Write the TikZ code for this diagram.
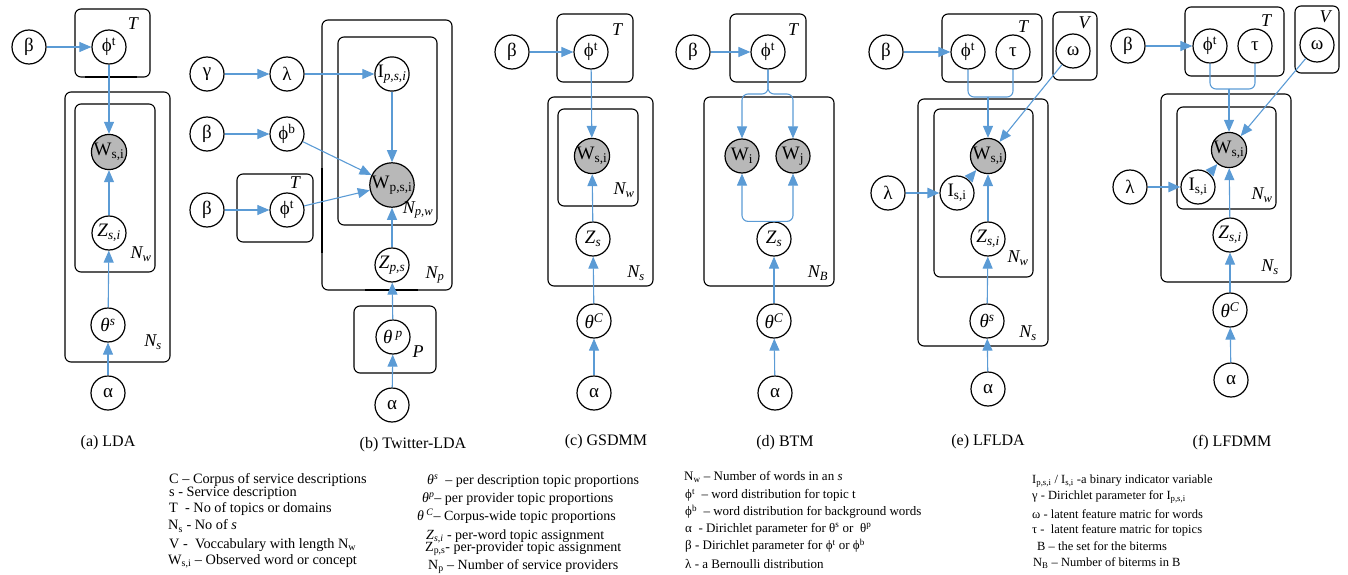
\documentclass[tikz,border=0pt]{standalone}
\usepackage{fontspec}
\setmainfont{Liberation Serif}
\usetikzlibrary{arrows.meta}
\definecolor{edgeBlue}{RGB}{91,155,213}
\definecolor{obsGray}{RGB}{184,184,184}
\tikzset{
    latentVar/.style={circle, draw, line width=1.2pt, minimum size=34pt, inner sep=0pt, font=\fontsize{19}{19}\selectfont},
    observedVar/.style={latentVar, fill=obsGray},
    plateBox/.style={draw, line width=1.1pt, rounded corners=6pt},
    plateLabel/.style={inner sep=0pt, font=\fontsize{18}{18}\selectfont\itshape},
    edgeArrow/.style={-{Triangle[length=12pt,width=10pt]}, edgeBlue, line width=1.1pt},
    thickArrow/.style={edgeArrow, line width=2.4pt},
    subCaption/.style={inner sep=0pt, font=\fontsize{16}{16}\selectfont},
    legendText/.style={anchor=west, inner sep=0pt, font=\fontsize{#1}{#1}\selectfont},
    legendText/.default=14
}
\newcommand{\phiT}{ϕ\textsuperscript{t}}
\newcommand{\phiB}{ϕ\textsuperscript{b}}
\newcommand{\wSI}{W\textsubscript{s,i}}
\newcommand{\zSI}{\textit{Z}\textsubscript{\textit{s,i}}}
\newcommand{\thetaOf}[1]{\textit{θ}\textsuperscript{\textit{#1}}}
\begin{document}
\begin{tikzpicture}[x=1pt, y=-1pt]
    \useasboundingbox (0,0) rectangle (1348,575);
    % (a) LDA
    \draw[plateBox] (75,9) rectangle (150,77);
    \draw[plateBox] (65,92) rectangle (170,362);
    \draw[plateBox] (75,104) rectangle (155,272);
    \draw[line width=2.4pt] (85,77) -- (137,77);
    \node[latentVar] (betaA) at (29,47) {β};
    \node[latentVar] (phiA) at (109,47) {\phiT};
    \node[observedVar] (wA) at (109,152) {\wSI};
    \node[latentVar] (zA) at (109,233) {\zSI};
    \node[latentVar] (thetaA) at (108,325) {\thetaOf{s}};
    \node[latentVar] (alphaA) at (108,393) {α};
    \node[plateLabel] (tA) at (133,24) {T};
    \node[plateLabel] (nwA) at (141,254) {N\textsubscript{w}};
    \node[plateLabel] (nsA) at (153,342) {N\textsubscript{s}};
    \node[subCaption] (capA) at (108,443) {(a) LDA};
    \draw[edgeArrow] (betaA) -- (phiA);
    \draw[edgeArrow] (phiA) -- (wA);
    \draw[edgeArrow] (zA) -- (wA);
    \draw[edgeArrow] (thetaA) -- (zA);
    \draw[edgeArrow] (alphaA) -- (thetaA);
    % (b) Twitter-LDA
    \draw[plateBox] (322,20) rectangle (452,290);
    \draw[plateBox] (338,37) rectangle (437,225);
    \draw[plateBox] (237,174) rectangle (313,242);
    \draw[plateBox] (354,306) rectangle (436,373);
    \draw[line width=2.4pt] (322,168) -- (322,253);
    \draw[line width=2.4pt] (365,290) -- (418,290);
    \node[latentVar] (gammaB) at (207,74) {γ};
    \node[latentVar] (lambdaB) at (287,74) {λ};
    \node[latentVar] (iB) at (392,74) {I\textsubscript{\textit{p,s,i}}};
    \node[latentVar] (betaBb) at (207,134) {β};
    \node[latentVar] (phibB) at (287,134) {\phiB};
    \node[latentVar] (betaBt) at (207,210) {β};
    \node[latentVar] (phitB) at (287,210) {\phiT};
    \node[observedVar] (wB) at (392,185) {W\textsubscript{p,s,i}};
    \node[latentVar] (zB) at (392,265) {\textit{Z}\textsubscript{\textit{p,s}}};
    \node[latentVar] (thetaB) at (393,337) {\textit{θ}\,\textsuperscript{\textit{p}}};
    \node[latentVar] (alphaB) at (392,405) {α};
    \node[plateLabel] (tB) at (295,183) {T};
    \node[plateLabel] (npwB) at (418,210) {N\textsubscript{p,w}};
    \node[plateLabel] (npB) at (435,275) {N\textsubscript{p}};
    \node[plateLabel] (pB) at (418,352) {P};
    \node[subCaption] (capB) at (413,445) {(b) Twitter-LDA};
    \draw[edgeArrow] (gammaB) -- (lambdaB);
    \draw[edgeArrow] (lambdaB) -- (iB);
    \draw[edgeArrow] (betaBb) -- (phibB);
    \draw[edgeArrow] (betaBt) -- (phitB);
    \draw[edgeArrow] (phibB) -- (wB);
    \draw[edgeArrow] (phitB) -- (wB);
    \draw[edgeArrow] (iB) -- (wB);
    \draw[edgeArrow] (zB) -- (wB);
    \draw[edgeArrow] (thetaB) -- (zB);
    \draw[edgeArrow] (alphaB) -- (thetaB);
    % (c) GSDMM
    \draw[plateBox] (557,14) rectangle (633,82);
    \draw[plateBox] (548,97) rectangle (653,286);
    \draw[plateBox] (558,109) rectangle (638,206);
    \node[latentVar] (betaC) at (512,52) {β};
    \node[latentVar] (phiC) at (591,52) {\phiT};
    \node[observedVar] (wC) at (592,156) {\wSI};
    \node[latentVar] (zC) at (593,239) {\textit{Z}\textsubscript{\textit{s}}};
    \node[latentVar] (thetaC) at (594,321) {\thetaOf{C}};
    \node[latentVar] (alphaC) at (594,393) {α};
    \node[plateLabel] (tC) at (617,30) {T};
    \node[plateLabel] (nwC) at (624,190) {N\textsubscript{w}};
    \node[plateLabel] (nsC) at (636,273) {N\textsubscript{s}};
    \node[subCaption] (capC) at (606,442) {(c) GSDMM};
    \draw[edgeArrow] (betaC) -- (phiC);
    \draw[edgeArrow] (phiC) -- (wC);
    \draw[edgeArrow] (zC) -- (wC);
    \draw[edgeArrow] (thetaC) -- (zC);
    \draw[edgeArrow] (alphaC) -- (thetaC);
    % (d) BTM
    \draw[plateBox] (730,14) rectangle (806,82);
    \draw[plateBox] (704,97) rectangle (834,286);
    \node[latentVar] (betaD) at (693,52) {β};
    \node[latentVar] (phiD) at (768,52) {\phiT};
    \node[observedVar] (wiD) at (742,156) {W\textsubscript{i}};
    \node[observedVar] (wjD) at (793,156) {W\textsubscript{j}};
    \node[latentVar] (zD) at (774,239) {\textit{Z}\textsubscript{\textit{s}}};
    \node[latentVar] (thetaD) at (774,321) {\thetaOf{C}};
    \node[latentVar] (alphaD) at (775,393) {α};
    \coordinate (splitD) at (768,94);
    \node[plateLabel] (tD) at (793,30) {T};
    \node[plateLabel] (nbD) at (818,273) {N\textsubscript{B}};
    \node[subCaption] (capD) at (785,443) {(d) BTM};
    \draw[edgeArrow] (betaD) -- (phiD);
    \draw[edgeArrow, rounded corners=6pt] (phiD.south) -- (splitD) -| (wiD.north);
    \draw[edgeArrow, rounded corners=6pt] (phiD.south) -- (splitD) -| (wjD.north);
    \draw[edgeArrow, rounded corners=6pt] (zD.north) -| (wiD.south);
    \draw[edgeArrow, rounded corners=6pt] (zD.north) -| (wjD.south);
    \draw[edgeArrow] (thetaD) -- (zD);
    \draw[edgeArrow] (alphaD) -- (thetaD);
    % (e) LFLDA
    \draw[plateBox] (942,14) rectangle (1042,82);
    \draw[plateBox] (1053,12) rectangle (1097,80);
    \draw[plateBox] (918,99) rectangle (1048,346);
    \draw[plateBox] (934,109) rectangle (1033,277);
    \node[latentVar] (betaE) at (886,52) {β};
    \node[latentVar] (phiE) at (968,52) {\phiT};
    \node[latentVar] (tauE) at (1013,52) {τ};
    \node[latentVar] (omegaE) at (1073,51) {ω};
    \node[observedVar] (wE) at (988,156) {\wSI};
    \node[latentVar] (lambdaE) at (888,193) {λ};
    \node[latentVar] (iE) at (957,193) {I\textsubscript{s,i}};
    \node[latentVar] (zE) at (988,239) {\zSI};
    \node[latentVar] (thetaE) at (987,321) {\thetaOf{s}};
    \node[latentVar] (alphaE) at (988,389) {α};
    \coordinate (mergeE) at (988,97);
    \node[plateLabel] (tE) at (1023,27) {T};
    \node[plateLabel] (vE) at (1084,23) {V};
    \node[plateLabel] (nwE) at (1018,258) {N\textsubscript{w}};
    \node[plateLabel] (nsE) at (1028,333) {N\textsubscript{s}};
    \node[subCaption] (capE) at (988,442) {(e) LFLDA};
    \draw[edgeArrow] (betaE) -- (phiE);
    \draw[edgeBlue, line width=1.1pt, rounded corners=6pt] (phiE.south) |- (mergeE);
    \draw[edgeBlue, line width=1.1pt, rounded corners=6pt] (tauE.south) |- (mergeE);
    \draw[edgeArrow] (mergeE) -- (wE.north);
    \draw[edgeArrow] (omegaE) -- (wE);
    \draw[thickArrow] (lambdaE) -- (iE);
    \draw[edgeArrow] (iE) -- (wE);
    \draw[edgeArrow] (zE) -- (wE);
    \draw[edgeArrow] (thetaE) -- (zE);
    \draw[edgeArrow] (alphaE) -- (thetaE);
    % (f) LFDMM
    \draw[plateBox] (1185,7) rectangle (1284,76);
    \draw[plateBox] (1295,6) rectangle (1339,73);
    \draw[plateBox] (1161,94) rectangle (1291,282);
    \draw[plateBox] (1177,107) rectangle (1276,209);
    \node[latentVar] (betaF) at (1128,46) {β};
    \node[latentVar] (phiF) at (1210,46) {\phiT};
    \node[latentVar] (tauF) at (1255,46) {τ};
    \node[latentVar] (omegaF) at (1317,45) {ω};
    \node[observedVar] (wF) at (1229,150) {\wSI};
    \node[latentVar] (lambdaF) at (1130,187) {λ};
    \node[latentVar] (iF) at (1198,187) {I\textsubscript{s,i}};
    \node[latentVar] (zF) at (1230,235) {\zSI};
    \node[latentVar] (thetaF) at (1230,310) {\thetaOf{C}};
    \node[latentVar] (alphaF) at (1231,380) {α};
    \coordinate (mergeF) at (1229,89);
    \node[plateLabel] (tF) at (1266,21) {T};
    \node[plateLabel] (vF) at (1325,17) {V};
    \node[plateLabel] (nwF) at (1262,195) {N\textsubscript{w}};
    \node[plateLabel] (nsF) at (1270,267) {N\textsubscript{s}};
    \node[subCaption] (capF) at (1232,443) {(f) LFDMM};
    \draw[edgeArrow] (betaF) -- (phiF);
    \draw[edgeBlue, line width=1.1pt, rounded corners=6pt] (phiF.south) |- (mergeF);
    \draw[edgeBlue, line width=1.1pt, rounded corners=6pt] (tauF.south) |- (mergeF);
    \draw[edgeArrow] (mergeF) -- (wF.north);
    \draw[edgeArrow] (omegaF) -- (wF);
    \draw[thickArrow] (lambdaF) -- (iF);
    \draw[edgeArrow] (iF) -- (wF);
    \draw[edgeArrow] (zF) -- (wF);
    \draw[edgeArrow] (thetaF) -- (zF);
    \draw[edgeArrow] (alphaF) -- (thetaF);
    % legend
    \node[legendText=14.3] (legC) at (169,480) {C – Corpus of service descriptions};
    \node[legendText=14.3] (legS) at (169,493) {s - Service description};
    \node[legendText=14.3] (legT) at (169,509) {T \ - No of topics or domains};
    \node[legendText=14.3] (legNs) at (168,526) {N\textsubscript{s} - No of \textit{s}};
    \node[legendText=14.3] (legV) at (169,545) {V - \ Voccabulary with length N\textsubscript{w}};
    \node[legendText=14.3] (legW) at (168,561) {W\textsubscript{s,i} – Observed word or concept};
    \node[legendText] (legThetaS) at (427,481) {\thetaOf{s} \ – per description topic proportions};
    \node[legendText] (legThetaP) at (422,499) {\thetaOf{p}– per provider topic proportions};
    \node[legendText] (legThetaC) at (417,516) {\textit{θ}\,\textsuperscript{\textit{C}}– Corpus-wide topic proportions};
    \node[legendText] (legZsi) at (426,536) {\zSI{} - per-word topic assignment};
    \node[legendText] (legZps) at (425,549) {Z\textsubscript{p,s}- per-provider topic assignment};
    \node[legendText] (legNp) at (428,567) {N\textsubscript{p} – Number of service providers};
    \node[legendText=13] (legNw) at (684,477) {N\textsubscript{w} – Number of words in an \textit{s}};
    \node[legendText=13] (legPhiT) at (685,495) {\phiT{} \ – word distribution for topic t};
    \node[legendText=13] (legPhiB) at (685,512) {\phiB{} \ – word distribution for background words};
    \node[legendText=13] (legAlpha) at (685,529) {α \ - Dirichlet parameter for θ\textsuperscript{s} or \ θ\textsuperscript{p}};
    \node[legendText=13] (legBeta) at (685,546) {β - Dirichlet parameter for \phiT{} or \phiB};
    \node[legendText=13] (legLambda) at (685,564) {λ - a Bernoulli distribution};
    \node[legendText=12.5] (legI) at (1032,481) {I\textsubscript{p,s,i} / I\textsubscript{s,i} -a binary indicator variable};
    \node[legendText=12.5] (legGamma) at (1032,497) {γ - Dirichlet parameter for I\textsubscript{p,s,i}};
    \node[legendText=12.5] (legOmega) at (1032,514) {ω - latent feature matric for words};
    \node[legendText=12.5] (legTau) at (1032,530) {τ - \ latent feature matric for topics};
    \node[legendText=12.5] (legB) at (1037,546) {B – the set for the biterms};
    \node[legendText=12.5] (legNb) at (1033,563) {N\textsubscript{B} – Number of biterms in B};
\end{tikzpicture}
\end{document}
